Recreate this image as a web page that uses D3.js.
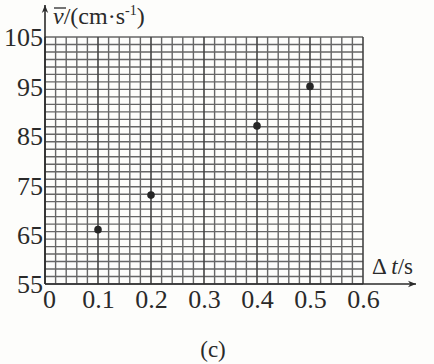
<!DOCTYPE html>
<html>
<head>
<meta charset="utf-8">
<script src="https://cdn.jsdelivr.net/npm/d3@7"></script>
<style>
  html, body { margin: 0; padding: 0; background: #fdfdfb; }
  svg { display: block; }
</style>
</head>
<body>
<div class="chart"></div>
<script>
// data
const dt = [0.1, 0.2, 0.4, 0.5]
const vbar = [66, 73, 87, 95]
const yTicks = [55, 65, 75, 85, 95, 105]
const xTicks = [0, 0.1, 0.2, 0.3, 0.4, 0.5, 0.6]

const width = 434
const height = 364
const ink = "#2a2a2a"
const serif = "'Liberation Serif'"

const x = d3.scaleLinear().domain([0, 0.6]).range([45, 363])
const y = d3.scaleLinear().domain([55, 105]).range([284, 37])

// the graph paper rows don't line up with the value ticks
const rows = 33
const row = d3.scaleLinear().domain([0, rows]).range([y(55), y(105)])

const svg = d3.select(".chart").append("svg")
  .attr("width", width)
  .attr("height", height)
  .attr("fill", ink)

const grid = svg.append("g").attr("fill", "none")

grid.selectAll("line.h")
  .data(d3.range(0, rows + 1))
  .join("line")
  .attr("class", "h")
  .attr("x1", x(0)).attr("x2", x(0.6))
  .attr("y1", d => row(d)).attr("y2", d => row(d))
  .attr("stroke", "#666")
  .attr("stroke-width", 1.4)

grid.selectAll("line.v")
  .data(d3.range(0, 31))
  .join("line")
  .attr("class", "v")
  .attr("x1", d => x(d * 0.02)).attr("x2", d => x(d * 0.02))
  .attr("y1", y(55)).attr("y2", y(105))
  .attr("stroke", d => d % 5 === 0 ? "#444" : "#666")
  .attr("stroke-width", d => d % 5 === 0 ? 1.6 : 1.4)

// axes with arrows
svg.append("defs").append("marker")
  .attr("id", "arrow")
  .attr("viewBox", "0 0 10 10")
  .attr("refX", 10).attr("refY", 5)
  .attr("markerWidth", 11).attr("markerHeight", 8)
  .attr("markerUnits", "userSpaceOnUse")
  .attr("orient", "auto")
  .append("path")
  .attr("d", "M0,1 L10,5 L0,9 L3,5 Z")
  .attr("fill", ink)

svg.append("line")
  .attr("x1", x(0)).attr("x2", x(0))
  .attr("y1", y(55)).attr("y2", 5)
  .attr("stroke", ink).attr("stroke-width", 1.6)
  .attr("marker-end", "url(#arrow)")

svg.append("line")
  .attr("x1", x(0)).attr("x2", 416)
  .attr("y1", y(55)).attr("y2", y(55))
  .attr("stroke", ink).attr("stroke-width", 1.6)
  .attr("marker-end", "url(#arrow)")

// tick labels
const yAxis = svg.append("g")
  .attr("transform", `translate(${x(0) - 2},0)`)
  .call(d3.axisLeft(y).tickValues(yTicks).tickSize(0).tickPadding(0))
yAxis.select(".domain").remove()
yAxis.selectAll("text")
  .style("font-family", serif)
  .attr("font-size", 26)
  .attr("fill", ink)
  .attr("dy", "0.34em")

const xAxis = svg.append("g")
  .attr("transform", `translate(0,${y(55)})`)
  .call(d3.axisBottom(x).tickValues(xTicks).tickSize(0).tickPadding(0)
    .tickFormat(d => d === 0 ? "0" : d3.format(".1f")(d)))
xAxis.select(".domain").remove()
xAxis.selectAll("text")
  .style("font-family", serif)
  .attr("font-size", 26)
  .attr("fill", ink)
  .attr("dy", "0.92em")
  .attr("dx", d => d === 0 ? 4 : 0)

// data points
svg.append("g")
  .selectAll("circle")
  .data(dt.map((d, i) => [d, vbar[i]]))
  .join("circle")
  .attr("cx", d => x(d[0]))
  .attr("cy", d => y(d[1]))
  .attr("r", 3.8)
  .attr("fill", "#262626")

// axis titles
const yt = svg.append("text")
  .style("font-family", serif)
  .attr("x", x(0) + 8)
  .attr("y", 24)
  .attr("font-size", 24)
yt.append("tspan")
  .attr("font-style", "italic")
  .text("v")
yt.append("tspan").text("/(cm·s")
yt.append("tspan").attr("font-size", 14).attr("dy", -9).text("-1")
yt.append("tspan").attr("dy", 9).text(")")

// bar over the v
svg.append("line")
  .attr("x1", x(0) + 9).attr("x2", x(0) + 21)
  .attr("y1", 8).attr("y2", 8)
  .attr("stroke", ink).attr("stroke-width", 1.3)

const xt = svg.append("text")
  .style("font-family", serif)
  .attr("x", 372)
  .attr("y", 274)
  .attr("font-size", 23)
xt.append("tspan").text("Δ ")
xt.append("tspan").attr("font-style", "italic").text("t")
xt.append("tspan").text("/s")

svg.append("text")
  .style("font-family", serif)
  .attr("x", 213)
  .attr("y", 357)
  .attr("text-anchor", "middle")
  .attr("font-size", 23)
  .text("(c)")
</script>
</body>
</html>
